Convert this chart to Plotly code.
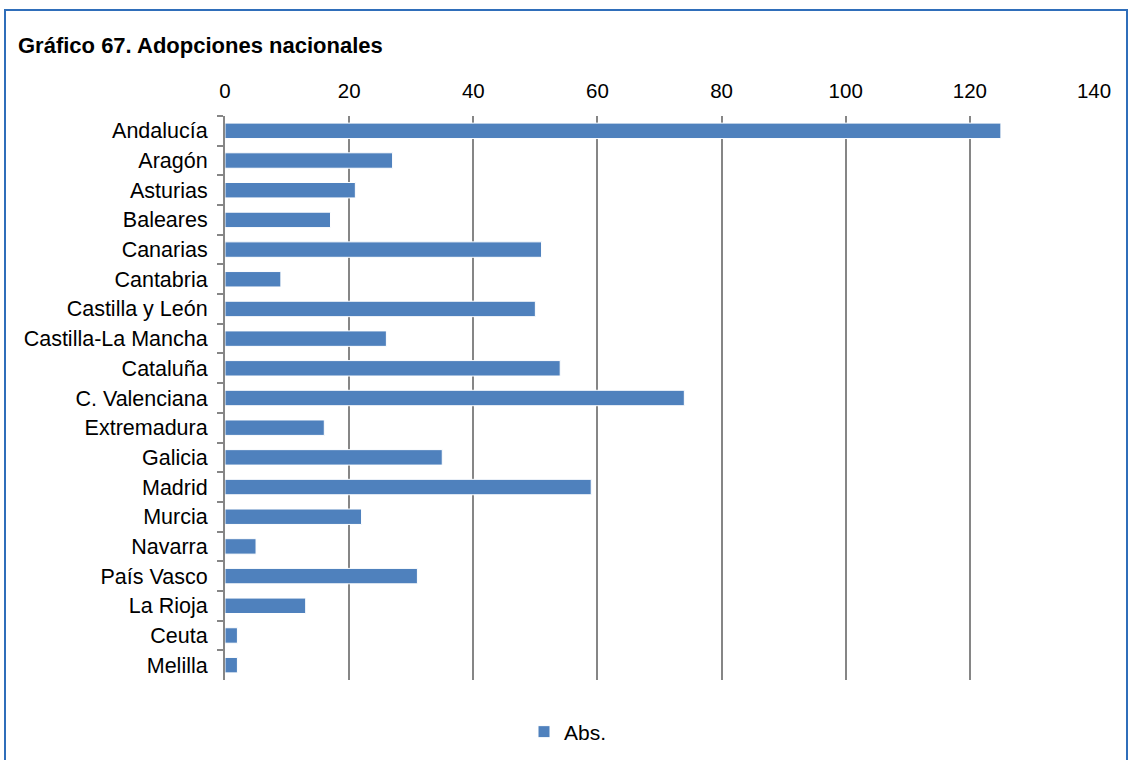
import plotly.graph_objects as go

categories = ["Andalucía", "Aragón", "Asturias", "Baleares", "Canarias", "Cantabria",
              "Castilla y León", "Castilla-La Mancha", "Cataluña", "C. Valenciana",
              "Extremadura", "Galicia", "Madrid", "Murcia", "Navarra", "País Vasco",
              "La Rioja", "Ceuta", "Melilla"]
values = [125, 27, 21, 17, 51, 9, 50, 26, 54, 74, 16, 35, 59, 22, 5, 31, 13, 2, 2]
tick_vals = [0, 20, 40, 60, 80, 100, 120, 140]
series_name = "Abs."
title_text = "Gráfico 67. Adopciones nacionales"

W, H = 1129, 760
FONT = "Liberation Sans, Arial, sans-serif"
GRID = "#868686"

fig = go.Figure()
fig.add_trace(go.Bar(
    y=categories, x=values, orientation="h", name=series_name,
    marker=dict(color="#4F81BD", line=dict(color="white", width=1)),
    showlegend=True,
))

fig.update_layout(
    width=W, height=H, autosize=False,
    margin=dict(l=0, r=0, t=0, b=0, pad=0),
    paper_bgcolor="white", plot_bgcolor="white",
    font=dict(family=FONT, size=20, color="#000000"),
    bargap=0.48,
    xaxis=dict(
        domain=[225 / W, 1094 / W],
        range=[0, 140], side="top",
        tickvals=tick_vals, ticks="",
        showgrid=True, gridcolor=GRID, gridwidth=2,
        zeroline=False, showline=False, automargin=False,
        ticklabelstandoff=13,
        tickfont=dict(size=20.5, family=FONT, color="#000000"),
    ),
    yaxis=dict(
        domain=[(H - 680) / H, (H - 116) / H],
        categoryorder="array", categoryarray=categories,
        autorange="reversed", automargin=False,
        showline=True, linecolor=GRID, linewidth=2,
        ticks="outside", tickson="boundaries", ticklen=6, tickcolor=GRID, tickwidth=2,
        ticklabelstandoff=11,
        tickfont=dict(size=21.5, family=FONT, color="#000000"),
        showgrid=False, zeroline=False,
    ),
    legend=dict(
        orientation="h", x=524 / W, xanchor="left",
        y=(H - 732) / H, yanchor="middle",
        font=dict(size=21, family=FONT, color="#000000"),
        itemwidth=30,
    ),
    shapes=[dict(
        type="rect", xref="paper", yref="paper",
        x0=5 / W, x1=1127 / W, y0=-0.05, y1=(H - 10) / H,
        line=dict(color="#2F6EBA", width=2), fillcolor="rgba(0,0,0,0)", layer="below",
    )],
    annotations=[dict(
        text="<b>" + title_text + "</b>", xref="paper", yref="paper",
        x=16 / W, y=(H - 45) / H, xanchor="left", yanchor="middle",
        showarrow=False, font=dict(size=22, family=FONT, color="#000000"),
    )],
)

fig.write_html(
    "out.html",
    config={"responsive": False, "displayModeBar": False},
    post_script="document.body.style.margin='0';document.body.style.overflow='hidden';",
)
